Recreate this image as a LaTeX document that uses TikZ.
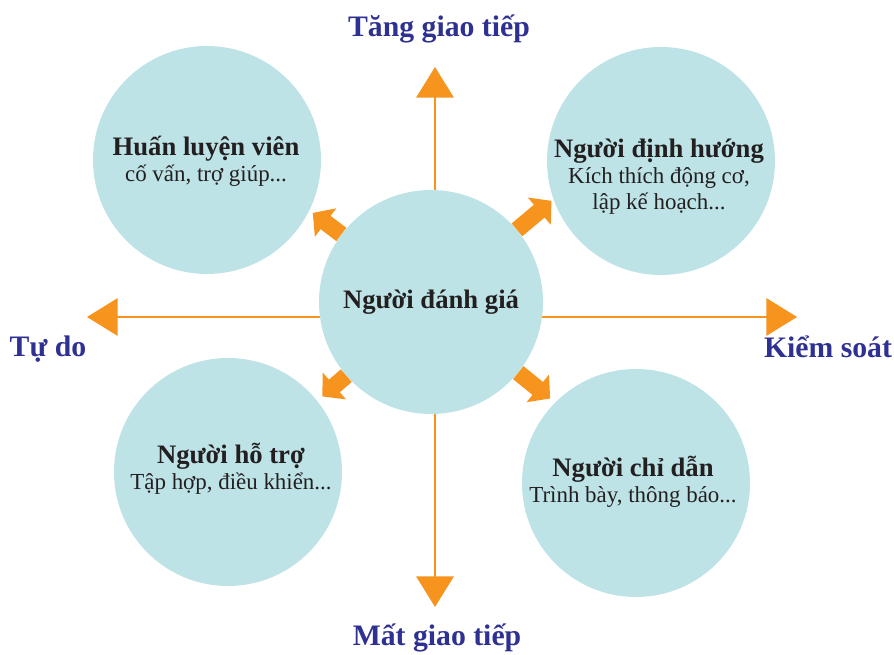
\documentclass[tikz,border=0pt]{standalone}
\usepackage{fontspec}
\setmainfont{Liberation Serif}
\usetikzlibrary{arrows.meta}

\definecolor{axisorange}{HTML}{F7941D}
\definecolor{axisblue}{HTML}{2E3192}
\definecolor{rolefill}{HTML}{BDE3E6}
\definecolor{roletext}{HTML}{231F20}

\def\rolesize{171pt}
\newcommand\rolehead[1]{{\fontsize{20}{24}\selectfont\bfseries #1}}

\begin{document}
\begin{tikzpicture}[x=0.75pt,y=-0.75pt]
    \tikzstyle{role}=[circle,fill=rolefill,minimum size=\rolesize,inner sep=0pt]
    \tikzstyle{role text}=[align=center,anchor=base,text=roletext,font=\fontsize{17.2}{19.8}\selectfont]
    \tikzstyle{axis label}=[anchor=base,text=axisblue,font=\fontsize{22.3}{26}\selectfont\bfseries]
    \tikzstyle{axis line}=[draw=axisorange,line width=1.8pt,arrows={Triangle[length=23pt,width=28pt]-Triangle[length=23pt,width=28pt]}]
    \tikzstyle{push arrow}=[draw=axisorange,line width=12.5pt,arrows={-Triangle[length=12pt,width=26pt]}]

    \useasboundingbox (0,0) rectangle (894,655);

    % Draw the two axes, behind the circles
    \coordinate (W) at (87,317);
    \coordinate (E) at (797,317);
    \coordinate (N) at (435,67);
    \coordinate (S) at (435,607);
    \draw[axis line] (W) -- (E);
    \draw[axis line] (N) -- (S);

    % Axis names
    \node[axis label] (up)    at (439,37)  {Tăng giao tiếp};
    \node[axis label] (down)  at (437,646) {Mất giao tiếp};
    \node[axis label] (left)  at (48,357)  {Tự do};
    \node[axis label] (right) at (828,358) {Kiểm soát};

    % Draw the four roles and the one in the middle
    \node[role] (hlv) at (207,160) {};
    \node[role] (ddh) at (661,161) {};
    \node[role] (nht) at (228,472) {};
    \node[role] (ncd) at (636,483) {};
    \node[role,minimum size=168pt,text=roletext] (ndg) at (431,302) {\rolehead{Người đánh giá}};

    % role texts sit on the baseline of their last line
    \node[role text] (hlv-t) at (206,182) {\rolehead{Huấn luyện viên}\\cố vấn, trợ giúp...};
    \node[role text] (ddh-t) at (659,210) {\rolehead{Người định hướng}\\Kích thích động cơ,\\lập kế hoạch...};
    \node[role text] (nht-t) at (231,490) {\rolehead{Người hỗ trợ}\\Tập hợp, điều khiển...};
    \node[role text] (ncd-t) at (633,503) {\rolehead{Người chỉ dẫn}\\Trình bày, thông báo...};

    % Short thick arrows from the middle towards each role
    \path (ndg.center) ++(143:111pt) coordinate (ul);
    \path (ndg.center) ++(40:118pt)  coordinate (ur);
    \path (ndg.center) ++(221:108pt) coordinate (ll);
    \path (ndg.center) ++(321:115pt) coordinate (lr);
    \foreach \tip in {ul,ur,ll,lr}
        \draw[push arrow] (ndg) -- (\tip);
\end{tikzpicture}
\end{document}
